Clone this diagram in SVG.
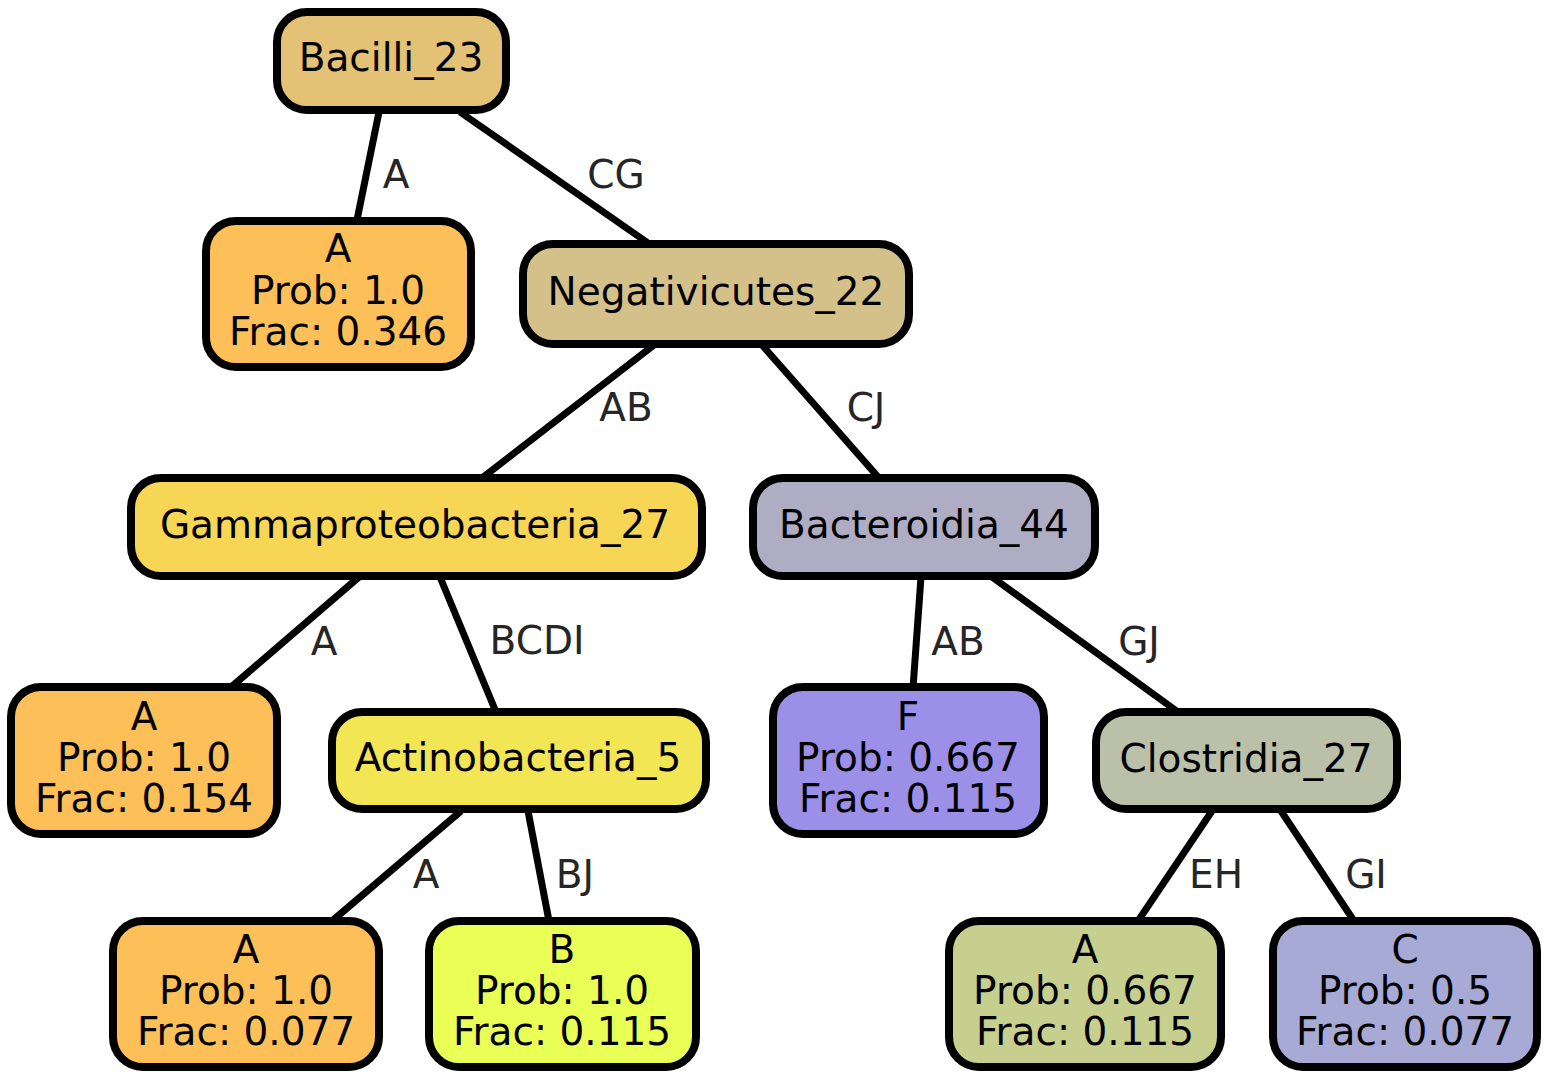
<svg xmlns="http://www.w3.org/2000/svg" width="1550" height="1079" viewBox="0 0 1550 1079">
<style>
.n rect{stroke:#000;stroke-width:8}
.n text{font-family:"DejaVu Sans",sans-serif;font-size:39px;fill:#000;text-anchor:middle}
#edges line{stroke:#000;stroke-width:7}
#edges text{font-family:"DejaVu Sans",sans-serif;font-size:39px;fill:#262626;text-anchor:middle}
</style>
<rect width="1550" height="1079" fill="#fff"/>
<g id="edges">
<line x1="379" y1="112" x2="357" y2="220"/>
<line x1="460" y1="112" x2="648" y2="243"/>
<line x1="654" y1="345" x2="482" y2="478"/>
<line x1="762" y1="345" x2="879" y2="478"/>
<line x1="359" y1="577" x2="230" y2="688"/>
<line x1="440" y1="577" x2="496" y2="712"/>
<line x1="921" y1="577" x2="913" y2="688"/>
<line x1="992" y1="577" x2="1178" y2="712"/>
<line x1="461" y1="811" x2="332" y2="921"/>
<line x1="528" y1="811" x2="549" y2="921"/>
<line x1="1212" y1="811" x2="1138" y2="921"/>
<line x1="1281" y1="811" x2="1354" y2="921"/>
<text x="396" y="188">A</text>
<text x="616" y="188">CG</text>
<text x="626" y="421">AB</text>
<text x="866" y="421">CJ</text>
<text x="324" y="655">A</text>
<text x="537" y="654">BCDI</text>
<text x="958" y="655">AB</text>
<text x="1139" y="655">GJ</text>
<text x="426" y="888">A</text>
<text x="575" y="888">BJ</text>
<text x="1216" y="888">EH</text>
<text x="1366" y="888">GI</text>
</g>
<g id="bacilli" class="n"><rect x="277" y="12" width="229" height="98" rx="30" fill="#E3C275"/><text x="391" y="71">Bacilli_23</text></g>
<g id="leafA1" class="n"><rect x="206" y="221" width="265" height="146" rx="30" fill="#FDC058"/><text x="338" y="262">A</text><text x="338" y="304">Prob: 1.0</text><text x="338" y="345">Frac: 0.346</text></g>
<g id="neg" class="n"><rect x="523" y="244" width="386" height="100" rx="30" fill="#D4C189"/><text x="716" y="305">Negativicutes_22</text></g>
<g id="gamma" class="n"><rect x="131" y="478" width="571" height="98" rx="30" fill="#F7D555"/><text x="415" y="538">Gammaproteobacteria_27</text></g>
<g id="bact" class="n"><rect x="753" y="478" width="342" height="98" rx="30" fill="#AFADC4"/><text x="924" y="538">Bacteroidia_44</text></g>
<g id="leafA2" class="n"><rect x="11" y="687" width="266" height="147" rx="30" fill="#FDC058"/><text x="144" y="730">A</text><text x="144" y="771">Prob: 1.0</text><text x="144" y="812">Frac: 0.154</text></g>
<g id="actino" class="n"><rect x="332" y="712" width="374" height="97" rx="30" fill="#F2E655"/><text x="518" y="771">Actinobacteria_5</text></g>
<g id="leafF" class="n"><rect x="773" y="687" width="271" height="147" rx="30" fill="#9B8FE8"/><text x="908" y="730">F</text><text x="908" y="771">Prob: 0.667</text><text x="908" y="812">Frac: 0.115</text></g>
<g id="clos" class="n"><rect x="1096" y="712" width="301" height="97" rx="30" fill="#BBC0A8"/><text x="1246" y="772">Clostridia_27</text></g>
<g id="leafA3" class="n"><rect x="113" y="921" width="266" height="146" rx="30" fill="#FDC058"/><text x="246" y="963">A</text><text x="246" y="1004">Prob: 1.0</text><text x="246" y="1045">Frac: 0.077</text></g>
<g id="leafB" class="n"><rect x="429" y="921" width="267" height="146" rx="30" fill="#EAFF55"/><text x="562" y="963">B</text><text x="562" y="1004">Prob: 1.0</text><text x="562" y="1045">Frac: 0.115</text></g>
<g id="leafA4" class="n"><rect x="949" y="921" width="272" height="146" rx="30" fill="#C6CF8E"/><text x="1085" y="963">A</text><text x="1085" y="1004">Prob: 0.667</text><text x="1085" y="1045">Frac: 0.115</text></g>
<g id="leafC" class="n"><rect x="1273" y="921" width="264" height="146" rx="30" fill="#A8AAD6"/><text x="1405" y="963">C</text><text x="1405" y="1004">Prob: 0.5</text><text x="1405" y="1045">Frac: 0.077</text></g>
</svg>
